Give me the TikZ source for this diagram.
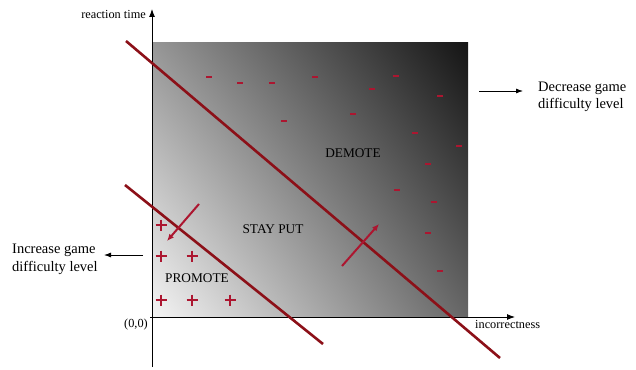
\documentclass[tikz,border=0pt]{standalone}
\usepackage{fontspec}
\setmainfont{Liberation Serif}
\usetikzlibrary{arrows.meta,shadings}
\definecolor{linered}{RGB}{140,16,24}
\definecolor{markred}{RGB}{172,22,48}
\definecolor{shadeUL}{gray}{0.59}
\definecolor{shadeUR}{gray}{0.08}
\definecolor{shadeLL}{gray}{0.96}
\definecolor{shadeLR}{gray}{0.40}
\begin{document}
\begin{tikzpicture}[x=1pt,y=-1pt,
 lbl/.style={font=\fontsize{12.3}{14}\selectfont, inner sep=0pt},
 zone/.style={font=\fontsize{13.3}{15}\selectfont, inner sep=0pt},
 note/.style={font=\fontsize{14.5}{17}\selectfont, inner sep=0pt, anchor=base west},
 sepline/.style={linered, line width=2.6pt},
 move/.style={markred, line width=2pt, -{Latex[length=7pt,width=6pt]}},
 plusmark/.style={markred, line width=1.2pt},
 minusmark/.style={fill=markred, draw=none},
 axisline/.style={black, line width=0.9pt, -{Latex[length=8pt,width=6pt]}},
 sidearrow/.style={black, line width=0.8pt, -{Latex[length=7pt,width=5pt]}}]

\useasboundingbox (0,0) rectangle (636,369);

% shaded field
\shade[upper left=shadeUL, upper right=shadeUR,
       lower left=shadeLL, lower right=shadeLR]
  (152,43) rectangle (468,317);

% axes
\coordinate (o) at (152,317);
\coordinate (ybot) at (152,367);
\coordinate (ytop) at (152,9);
\coordinate (xleft) at (150,317);
\coordinate (xright) at (515,317);
\draw[axisline] (ybot) -- (ytop);
\draw[axisline] (xleft) -- (xright);

% separating lines
\coordinate (a1) at (126,41);
\coordinate (a2) at (500,358);
\coordinate (b1) at (125,185);
\coordinate (b2) at (323,344);
\draw[sepline] (a1) -- (a2);
\draw[sepline] (b1) -- (b2);

% movement arrows
\coordinate (m1s) at (199,204);
\coordinate (m1e) at (167,241);
\coordinate (m2s) at (342,266);
\coordinate (m2e) at (379,224);
\draw[move] (m1s) -- (m1e);
\draw[move] (m2s) -- (m2e);

% plus marks
\foreach \x/\y in {161/225, 161/256, 192/256, 161/300, 192/300, 230/300}
  \draw[plusmark] (\x-5.5,\y) -- (\x+5.5,\y) (\x,\y-5.5) -- (\x,\y+5.5);

% minus marks
\foreach \x/\y in {209/77, 240/83, 272/83, 315/77, 372/89, 396/76, 440/96, 284/121,
                   353/114, 415/133, 459/146, 428/164, 397/190, 434/202, 428/233, 440/271}
  \fill[minusmark] (\x-3,\y-1) rectangle (\x+3,\y+1);

% axis labels
\node[lbl, anchor=base east] (ylab) at (146,18.5) {reaction time};
\node[lbl, anchor=base west] (xlab) at (475,328) {incorrectness};
\node[lbl, anchor=base east] (orig) at (148,327) {(0,0)};

% zone labels
\node[zone, anchor=base] (demote) at (353,157) {DEMOTE};
\node[zone, anchor=base] (stay) at (273,233) {STAY PUT};
\node[zone, anchor=base] (promote) at (197,282) {PROMOTE};

% side notes
\node[note] (decA) at (538,91) {Decrease game};
\node[note] (decB) at (538,108.5) {difficulty level};
\node[note] (incA) at (12,253) {Increase game};
\node[note] (incB) at (12,271) {difficulty level};
\coordinate (r1) at (479,91);
\coordinate (r2) at (523,91);
\coordinate (l1) at (143,255);
\coordinate (l2) at (104,255);
\draw[sidearrow] (r1) -- (r2);
\draw[sidearrow] (l1) -- (l2);
\end{tikzpicture}
\end{document}
